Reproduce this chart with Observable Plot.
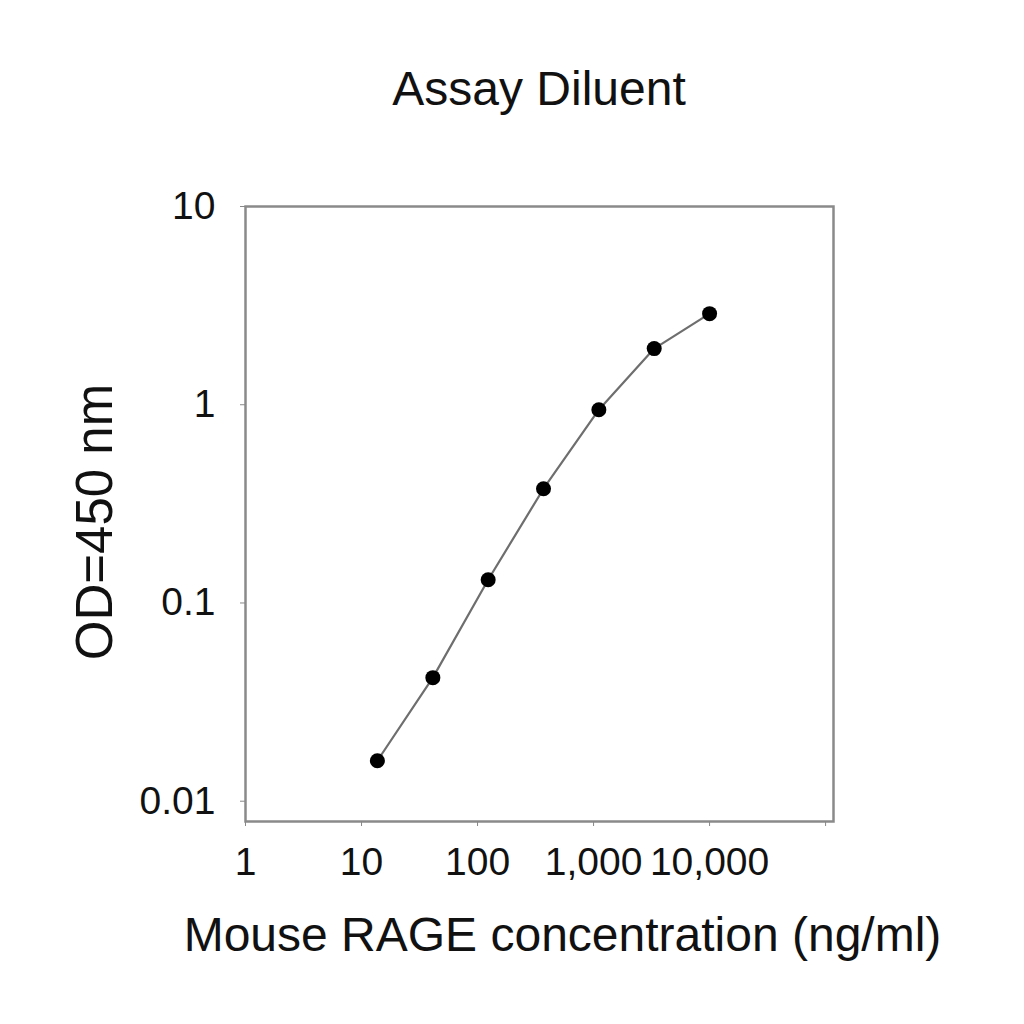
<!DOCTYPE html>
<html><head><meta charset="utf-8">
<script src="https://cdn.jsdelivr.net/npm/d3@7"></script>
<script src="https://cdn.jsdelivr.net/npm/@observablehq/plot@0.6"></script>
<style>
body{margin:0;background:#fff;font-family:"Liberation Sans",Arial,sans-serif;}
#title{height:150px;box-sizing:border-box;padding-top:66px;padding-left:54px;text-align:center;font-size:48px;line-height:46px;color:#111;}
</style></head><body>
<div id="title">Assay Diluent</div>
<div id="chart"></div>
<script>
const concentration = [13.7, 41.2, 123.5, 370.4, 1111, 3333, 10000];
const od450 = [0.016, 0.042, 0.131, 0.377, 0.944, 1.92, 2.88];
const xTicks = [1, 10, 100, 1000, 10000, 100000];
const xTickLabels = ["1", "10", "100", "1,000", "10,000", ""];
const yTicks = [0.01, 0.1, 1, 10];
const yTickLabels = ["0.01", "0.1", "1", "10"];
const xLabel = "Mouse RAGE concentration (ng/ml)";
const yLabel = "OD=450 nm";

const data = concentration.map((c, i) => ({c, od: od450[i]}));

const chart = Plot.plot({
  width: 1024, height: 874,
  marginLeft: 245, marginRight: 191, marginTop: 56, marginBottom: 203,
  style: {fontFamily: '"Liberation Sans", Arial, sans-serif', color: "#111", background: "#fff"},
  x: {type: "log", domain: [1, 117000]},
  y: {type: "log", domain: [0.0079, 10]},
  marks: [
    Plot.frame({stroke: "#8a8a8a", strokeWidth: 2.5}),
    Plot.axisX({ticks: xTicks, tickFormat: d => xTickLabels[xTicks.indexOf(d)], tickSize: 5, tickPadding: 21, fontSize: 39, stroke: "#888", fill: "#111", label: null}),
    Plot.axisY({ticks: yTicks, tickFormat: d => yTickLabels[yTicks.indexOf(d)], tickSize: 5, tickPadding: 25, fontSize: 39, stroke: "#888", fill: "#111", label: null}),
    Plot.line(data, {x: "c", y: "od", stroke: "#6e6e6e", strokeWidth: 2.2}),
    Plot.dot(data, {x: "c", y: "od", r: 7.5, fill: "#000", stroke: "none"}),
    Plot.text([xLabel], {text: d => d, frameAnchor: "bottom", textAnchor: "middle", lineAnchor: "bottom", dy: 129, dx: 23, fontSize: 48, fill: "#111"}),
    Plot.text([yLabel], {text: d => d, frameAnchor: "left", textAnchor: "middle", lineAnchor: "bottom", rotate: -90, dx: -134, dy: 8, fontSize: 51, fill: "#111"})
  ]
});
document.getElementById("chart").appendChild(chart);
</script>
</body></html>
